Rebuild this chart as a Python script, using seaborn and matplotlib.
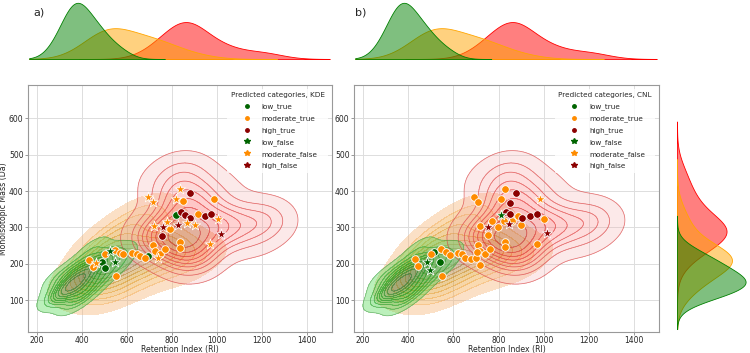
import numpy as np
import pandas as pd
import matplotlib
matplotlib.use('Agg')
import matplotlib.pyplot as plt
from matplotlib.lines import Line2D
import seaborn as sns

low_ri = [365, 320, 300, 410, 360, 430, 380, 480, 500, 560, 450, 580, 270]
low_mass = [145, 120, 160, 120, 95, 180, 190, 160, 215, 200, 240, 230, 110]
low_w = [4, 1.5, 1, 1.5, 0.8, 2, 1.2, 1.2, 1.5, 0.8, 0.8, 0.5, 0.6]

mod_ri = [500, 580, 680, 440, 390, 760, 850, 950, 560, 650, 730, 560, 700, 850, 470, 760, 480]
mod_mass = [195, 210, 225, 165, 135, 235, 230, 220, 275, 325, 355, 135, 165, 180, 105, 295, 240]
mod_w = [3.5, 2.5, 2, 1.5, 0.8, 1.5, 1, 0.5, 1.5, 1, 0.5, 1.2, 0.8, 0.5, 0.6, 0.8, 0.8]

high_ri = [870, 1023, 760, 1202, 720, 862, 878, 860, 890, 760, 1150, 1240, 1000]
high_mass = [290, 305, 275, 322, 270, 365, 235, 450, 205, 415, 265, 315, 400]
high_w = [2.5, 2, 2, 1, 0.4, 2, 2, 0.9, 0.4, 0.5, 0.4, 0.25, 0.5]

# predicted compounds, panel a (KDE)
kde_ri = [432, 447, 502, 547, 569, 583, 621, 643, 658, 680, 550, 717, 724, 747, 769, 836, 836, 791, 848, 913, 987,
          487, 502, 818, 695,
          880, 839, 858, 880, 944, 974, 754,
          524, 546,
          694, 717, 833, 818, 721, 779, 737, 970, 1004, 866, 903, 462,
          759, 828, 1017]
kde_mass = [210, 190, 226, 239, 230, 226, 230, 228, 221, 215, 166, 251, 236, 228, 240, 259, 244, 297, 373, 336, 378,
            205, 187, 334, 221,
            396, 343, 334, 327, 331, 336, 276,
            235, 205,
            384, 370, 405, 377, 304, 315, 215, 253, 323, 313, 308, 203,
            300, 308, 283]
kde_cat = ['moderate_true'] * 21 + ['low_true'] * 4 + ['high_true'] * 7 + ['low_false'] * 2 + \
          ['moderate_false'] * 12 + ['high_false'] * 3

# predicted compounds, panel b (CNL)
cnl_ri = [430, 444, 499, 545, 566, 585, 619, 640, 652, 679, 699, 719, 548, 711, 719, 704, 741, 763,
          689, 708, 827, 810, 884, 1000, 719, 770, 797, 825, 859, 899, 752, 827, 827, 970,
          514, 541,
          877, 852, 834, 852, 904, 941, 968,
          484, 496, 810,
          982,
          752, 1012, 844]
cnl_mass = [213, 193, 226, 240, 231, 224, 230, 226, 216, 212, 215, 196, 166, 251, 236, 233, 226, 240,
            384, 370, 405, 377, 332, 323, 304, 318, 300, 318, 318, 308, 279, 259, 247, 254,
            233, 205,
            396, 367, 343, 336, 327, 331, 336,
            205, 184, 334,
            378,
            300, 285, 309]
cnl_cat = ['moderate_true'] * 34 + ['low_true'] * 2 + ['high_true'] * 7 + ['low_false'] * 3 + \
          ['moderate_false'] * 1 + ['high_false'] * 3

categories = ['low_true', 'moderate_true', 'high_true', 'low_false', 'moderate_false', 'high_false']
cat_colors = {'low': 'darkgreen', 'moderate': 'darkorange', 'high': 'darkred'}

sns.set_style('whitegrid')
plt.rcParams['font.family'] = ['DejaVu Sans']

low_df = pd.DataFrame({'ri': low_ri, 'mass': low_mass, 'w': low_w})
mod_df = pd.DataFrame({'ri': mod_ri, 'mass': mod_mass, 'w': mod_w})
high_df = pd.DataFrame({'ri': high_ri, 'mass': high_mass, 'w': high_w})
clouds = [(high_df, 'red'), (mod_df, 'orange'), (low_df, 'green')]
BW = 0.65


def style_axes(ax):
    ax.set_xlim(160, 1510)
    ax.set_ylim(12, 692)
    ax.set_xticks([200, 400, 600, 800, 1000, 1200, 1400])
    ax.set_yticks([100, 200, 300, 400, 500, 600])
    ax.tick_params(labelsize=5.5, length=2.2, width=0.6, color='#888888', pad=1, left=True, bottom=True)
    ax.grid(True, color='#dddddd', linewidth=0.7)
    for s in ax.spines.values():
        s.set_color('#999999')
        s.set_linewidth(0.8)


def draw_panel(ax, ri, mass, cat, title):
    for df, col, a in [(mod_df, 'orange', 0.4), (high_df, 'red', 0.27), (low_df, 'green', 0.4)]:
        sns.kdeplot(data=df, x='ri', y='mass', weights='w', fill=True, levels=10, thresh=0.05,
                    color=col, alpha=a, bw_method=BW, ax=ax)
    sns.kdeplot(data=high_df, x='ri', y='mass', weights='w', levels=10, thresh=0.05,
                color='#d84040', linewidths=0.55, alpha=0.7, bw_method=BW, ax=ax)
    sns.kdeplot(data=low_df, x='ri', y='mass', weights='w', levels=10, thresh=0.05,
                color='#3a8a3a', linewidths=0.5, alpha=0.6, bw_method=BW, ax=ax)

    pts = pd.DataFrame({'ri': ri, 'mass': mass, 'cat': cat})
    for c in categories:
        sub = pts[pts['cat'] == c]
        level, truth = c.split('_')
        marker = 'o' if truth == 'true' else '*'
        size = 30 if truth == 'true' else 60
        sns.scatterplot(data=sub, x='ri', y='mass', color=cat_colors[level], marker=marker, s=size,
                        edgecolor='white', linewidth=0.6, ax=ax, zorder=5)

    handles = []
    for c in categories:
        level, truth = c.split('_')
        handles.append(Line2D([], [], linestyle='', marker='o' if truth == 'true' else '*',
                              color=cat_colors[level], markersize=2.5 if truth == 'true' else 4, label=c))
    leg = ax.legend(handles=handles, title=title, loc='upper right', fontsize=5.2, title_fontsize=5.2,
                    handletextpad=0.8, labelspacing=0.7, borderpad=0.5, handlelength=2.5)
    leg.get_frame().set_linewidth(0)
    style_axes(ax)
    ax.set_xlabel('Retention Index (RI)', fontsize=5.6, labelpad=0)


def draw_top(ax):
    for df, col in clouds:
        sns.kdeplot(data=df, x='ri', weights='w', fill=True, color=col, alpha=0.5,
                    linewidth=0.6, bw_method=BW, clip=(165, 1500), ax=ax)
    ax.set_xlim(160, 1510)
    ax.set_ylim(bottom=0)
    ax.margins(y=0)
    ax.axis('off')


fig = plt.figure(figsize=(7.5, 3.53), dpi=100)
ax_a = fig.add_axes([0.0373, 0.0595, 0.4054, 0.6995])
ax_b = fig.add_axes([0.472, 0.0595, 0.4067, 0.6995])
top_a = fig.add_axes([0.0373, 0.833, 0.4054, 0.167])
top_b = fig.add_axes([0.472, 0.833, 0.4067, 0.167])
ax_r = fig.add_axes([0.9027, 0.0595, 0.096, 0.6995])

draw_panel(ax_a, kde_ri, kde_mass, kde_cat, 'Predicted categories, KDE')
draw_panel(ax_b, cnl_ri, cnl_mass, cnl_cat, 'Predicted categories, CNL')
ax_a.set_ylabel('Monoisotopic Mass (Da)', fontsize=5.6, labelpad=0.5)
ax_b.set_ylabel('')

draw_top(top_a)
draw_top(top_b)

for df, col in clouds:
    sns.kdeplot(data=df, y='mass', weights='w', fill=True, color=col, alpha=0.5,
                linewidth=0.6, bw_method=BW, clip=(20, 690), ax=ax_r)
ax_r.set_ylim(12, 692)
ax_r.set_xlim(left=0)
ax_r.margins(x=0)
ax_r.axis('off')

fig.text(0.044, 0.955, 'a)', fontsize=8)
fig.text(0.473, 0.955, 'b)', fontsize=8)

fig.savefig('out.png', dpi=100)
